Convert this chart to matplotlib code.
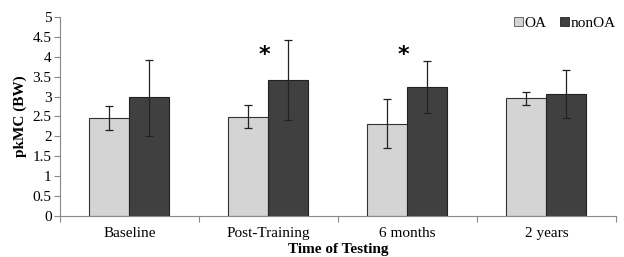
import matplotlib
matplotlib.use("Agg")
import matplotlib.pyplot as plt
import numpy as np
from matplotlib.patches import Patch

categories = ["Baseline", "Post-Training", "6 months", "2 years"]
oa_mean = [2.46, 2.49, 2.31, 2.96]
oa_err_lo = [2.15, 2.22, 1.71, 2.78]
oa_err_hi = [2.77, 2.79, 2.93, 3.12]
non_mean = [2.99, 3.41, 3.25, 3.07]
non_err_lo = [2.02, 2.41, 2.59, 2.46]
non_err_hi = [3.93, 4.42, 3.90, 3.67]
star_groups = [1, 2]
star_y = 4.05

plt.rcParams["font.family"] = ["Liberation Serif", "DejaVu Serif"]

fig = plt.figure(figsize=(6.24, 2.57), dpi=100)
ax = fig.add_axes([0.096, 0.1595, 0.891, 0.7745])

x = np.arange(len(categories))
w = 0.288
oa_yerr = [np.array(oa_mean) - np.array(oa_err_lo), np.array(oa_err_hi) - np.array(oa_mean)]
non_yerr = [np.array(non_mean) - np.array(non_err_lo), np.array(non_err_hi) - np.array(non_mean)]

ax.bar(x - w / 2, oa_mean, w, color="#d4d4d4", edgecolor="#333333", linewidth=0.8,
       yerr=oa_yerr, error_kw=dict(ecolor="#222222", elinewidth=0.9, capsize=3, capthick=0.9))
ax.bar(x + w / 2, non_mean, w, color="#404040", edgecolor="#222222", linewidth=0.8,
       yerr=non_yerr, error_kw=dict(ecolor="#222222", elinewidth=0.9, capsize=3, capthick=0.9))

for g in star_groups:
    ax.text(x[g] - 0.03, star_y, "*", ha="center", va="center", fontsize=16, fontweight="bold",
            family="DejaVu Sans")

ax.set_xlim(-0.5, len(categories) - 0.5)
ax.set_ylim(0, 5)
ax.set_yticks(np.arange(0, 5.01, 0.5))
ax.set_yticklabels(["0", "0.5", "1", "1.5", "2", "2.5", "3", "3.5", "4", "4.5", "5"], fontsize=11)

ax.set_xticks(np.arange(-0.5, len(categories), 1.0))
ax.set_xticklabels([])
ax.set_xticks(x, minor=True)
ax.set_xticklabels(categories, minor=True, fontsize=11)
ax.tick_params(axis="x", which="major", length=4, color="#888888")
ax.tick_params(axis="x", which="minor", length=0, pad=8)
ax.tick_params(axis="y", length=4, color="#888888", pad=2)

for s in ["top", "right"]:
    ax.spines[s].set_visible(False)
for s in ["left", "bottom"]:
    ax.spines[s].set_color("#888888")

ax.set_ylabel("pkMC (BW)", fontsize=11, fontweight="bold", labelpad=4)
ax.set_xlabel("Time of Testing", fontsize=11, fontweight="bold", labelpad=2)

handles = [Patch(facecolor="#d4d4d4", edgecolor="#555555", linewidth=0.6, label="OA"),
           Patch(facecolor="#404040", edgecolor="#222222", linewidth=0.6, label="nonOA")]
ax.legend(handles=handles, loc="upper right", bbox_to_anchor=(1.025, 1.07), ncol=2, frameon=False,
          fontsize=11, handlelength=0.6, handleheight=0.6, handletextpad=0.1, columnspacing=0.9)

fig.savefig("out.png", dpi=100)
